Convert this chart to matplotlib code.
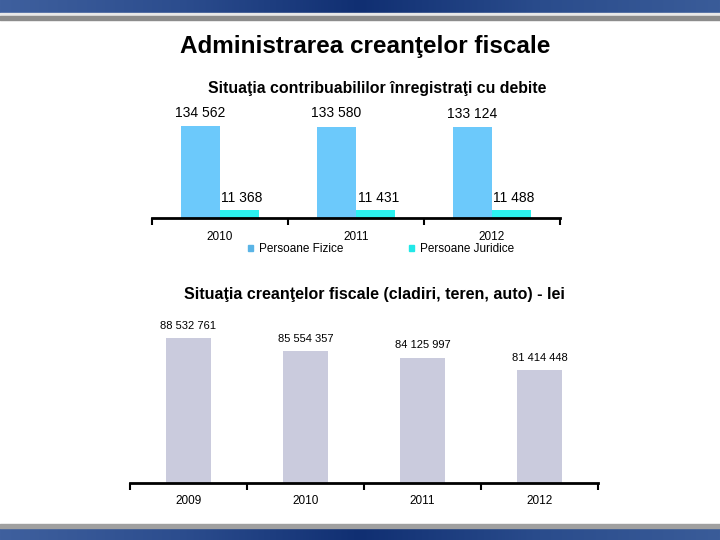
import numpy as np
import matplotlib.pyplot as plt
from matplotlib.patches import Patch
from matplotlib.colors import LinearSegmentedColormap

plt.rcParams['font.family'] = ['Liberation Sans', 'DejaVu Sans']

# date grafic 1
ani1 = ['2010', '2011', '2012']
fizice = [134562, 133580, 133124]
juridice = [11368, 11431, 11488]

# date grafic 2
ani2 = ['2009', '2010', '2011', '2012']
creante = [88532761, 85554357, 84125997, 81414448]

W, H = 720, 540


def fmt(v):
    return f"{v:,}".replace(",", " ")


def px_axes(fig, x0, y0, x1, y1):
    # coordonate in pixeli (origine sus-stanga)
    return fig.add_axes([x0 / W, 1 - y1 / H, (x1 - x0) / W, (y1 - y0) / H])


fig = plt.figure(figsize=(7.2, 5.4), dpi=100)

# ---------------- banda albastra sus / jos ----------------
bg = fig.add_axes([0, 0, 1, 1], zorder=-10)
bg.axis('off')
grad = np.linspace(0, 1, 256)[None, :]
cm = LinearSegmentedColormap.from_list('b', ['#3f609e', '#2c4d8e', '#102f72', '#2a4c8c', '#3a5c99'])
bg.imshow(grad, cmap=cm, aspect='auto', extent=[0, W, 13, 0])
bg.fill_between([0, W], 13, 16, color='#e8e8e8')
bg.fill_between([0, W], 16, 20, color='#8c8c8c')
bg.imshow(grad, cmap=cm, aspect='auto', extent=[0, W, H, 528])
bg.fill_between([0, W], 524, 528, color='#a0a0a0')
bg.set_xlim(0, W)
bg.set_ylim(H, 0)

fig.text(365 / W, 1 - 46 / H, 'Administrarea creanţelor fiscale', ha='center', va='center',
         fontsize=17.5, fontweight='bold')

# ---------------- grafic 1 ----------------
ax1 = px_axes(fig, 152, 100, 560, 218)
x = np.arange(len(ani1))
bw = 0.285
ax1.bar(x - bw / 2, fizice, bw, color='#6cc9fb')
ax1.bar(x + bw / 2, juridice, bw, color='#2cf2f0')
ax1.set_xlim(-0.5, 2.5)
ax1.set_ylim(0, 134562 * 118 / 92)
for i in range(len(ani1)):
    ax1.annotate(fmt(fizice[i]), (x[i] - bw / 2, fizice[i]), xytext=(0, 9.5), textcoords='offset points',
                 ha='center', va='center', fontsize=10)
    ax1.annotate(fmt(juridice[i]), (x[i] + bw / 2, juridice[i]), xytext=(2, 9), textcoords='offset points',
                 ha='center', va='center', fontsize=10)
ax1.set_xticks([-0.5, 0.5, 1.5, 2.5])
ax1.set_xticklabels([])
ax1.set_xticks(x, minor=True)
ax1.set_xticklabels(ani1, minor=True, fontsize=8.5)
ax1.tick_params(axis='x', which='major', direction='out', length=5, width=1.5)
ax1.tick_params(axis='x', which='minor', length=0, pad=9)
ax1.set_yticks([])
for s in ['top', 'right', 'left']:
    ax1.spines[s].set_visible(False)
ax1.spines['bottom'].set_linewidth(2)
ax1.patch.set_alpha(0)
fig.text(377 / W, 1 - 89 / H, 'Situaţia contribuabililor înregistraţi cu debite', ha='center', va='center',
         fontsize=11.4, fontweight='bold')
fig.legend(handles=[Patch(color='#5ab4e6', label='Persoane Fizice'),
                    Patch(color='#22e8e8', label='Persoane Juridice')],
           loc='center', bbox_to_anchor=(381 / W, 1 - 249 / H), ncol=2, frameon=False,
           fontsize=8.5, handlelength=0.4, handleheight=0.4, handletextpad=0.5, columnspacing=5.6)

# ---------------- grafic 2 ----------------
ax2 = px_axes(fig, 130, 310, 598, 483)
x2 = np.arange(len(ani2))
ax2.bar(x2, creante, 0.39, color='#cacbdd')
y0 = 56.27e6
ax2.set_ylim(y0, y0 + 173 / 4.494 * 1e6)
ax2.set_xlim(-0.5, 3.5)
for i in range(len(ani2)):
    ax2.annotate(fmt(creante[i]), (x2[i], creante[i]), xytext=(0, 9), textcoords='offset points',
                 ha='center', va='center', fontsize=8)
ax2.set_xticks([-0.5, 0.5, 1.5, 2.5, 3.5])
ax2.set_xticklabels([])
ax2.set_xticks(x2, minor=True)
ax2.set_xticklabels(ani2, minor=True, fontsize=8.5)
ax2.tick_params(axis='x', which='major', direction='out', length=5, width=1.5)
ax2.tick_params(axis='x', which='minor', length=0, pad=9)
ax2.set_yticks([])
for s in ['top', 'right', 'left']:
    ax2.spines[s].set_visible(False)
ax2.spines['bottom'].set_linewidth(2)
ax2.patch.set_alpha(0)
fig.text(374 / W, 1 - 294 / H, 'Situaţia creanţelor fiscale (cladiri, teren, auto) - lei', ha='center',
         va='center', fontsize=11.5, fontweight='bold')

fig.savefig('out.png', dpi=100)
